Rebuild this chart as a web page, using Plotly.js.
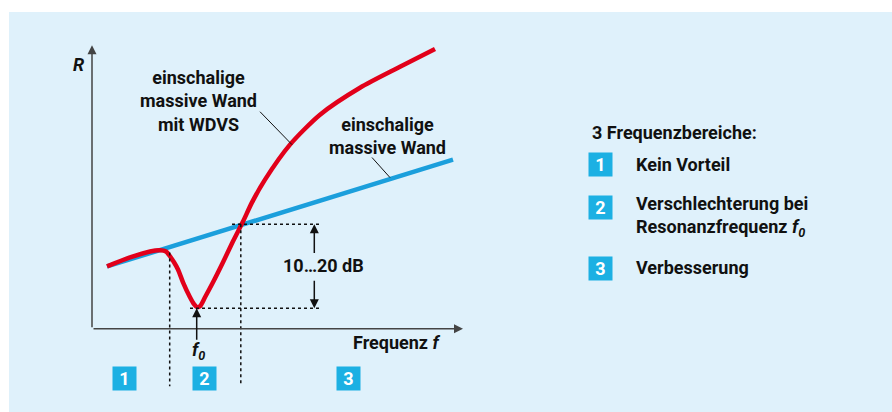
<!DOCTYPE html>
<html><head><meta charset="utf-8">
<script src="https://cdn.plot.ly/plotly-3.0.1.min.js"></script>
<style>html,body{margin:0;padding:0;background:#fff}#chart{width:892px;height:412px}</style>
</head><body><div id="chart"></div>
<script>
// Data (x: frequency, y: sound reduction R, arbitrary units)
const wallX = [0.375, 9.025];
const wallY = [2.08, 5.65];
const wdvsX = [0.375, 0.95, 1.45, 1.7, 1.85, 1.95, 2.05, 2.15, 2.275, 2.45, 2.55, 2.625, 2.7, 2.825, 3.025, 3.275, 3.525, 3.775, 4.0, 4.325, 4.95, 5.7, 6.7, 7.7, 8.575];
const wdvsY = [2.08, 2.38, 2.58, 2.62, 2.58, 2.42, 2.22, 1.98, 1.55, 1.05, 0.82, 0.72, 0.75, 1.05, 1.55, 2.22, 2.92, 3.58, 4.22, 4.98, 6.15, 7.15, 8.05, 8.75, 9.35];
const f0 = 2.6175;          // resonance frequency
const rMin = 0.68;          // R at f0
const fCross = 3.72;        // crossing frequency
const rCross = 3.49;        // R at crossing
const fStart2 = 1.9425;     // start of range 2
const rangeLabels = ["1", "2", "3"];
const rangeLabelX = [0.8125, 2.8125, 6.4125];
const legendTitle = "3 Frequenzbereiche:";
const legendTexts = ["Kein Vorteil", "Verschlechterung bei<br>Resonanzfrequenz <i>f<sub>0</sub></i>", "Verbesserung"];
const labelWall = ["einschalige", "massive Wand"];
const labelWdvs = ["einschalige", "massive Wand", "mit WDVS"];
const dbLabel = "10…20 dB";

const RED = "#e2001a", BLUE = "#1b9fdc", SQ = "#1cb0e3", BG = "#dff1fb";
const FONT = {family: "Roboto, 'Liberation Sans', sans-serif", size: 18, color: "#111", weight: 700};

const traces = [
  {x: wallX, y: wallY, mode: "lines", line: {color: BLUE, width: 4.5}, hoverinfo: "skip"},
  {x: wdvsX, y: wdvsY, mode: "lines", line: {color: RED, width: 4.5, shape: "spline", smoothing: 0.7}, hoverinfo: "skip"}
];

const dot = {color: "#111", width: 1.5, dash: "dot"};
const shapes = [
  {type: "rect", xref: "paper", yref: "paper", x0: 9/892, x1: 1, y0: 0, y1: 400/412, fillcolor: BG, line: {width: 0}, layer: "below"},
  {type: "line", x0: fStart2, x1: fStart2, y0: 2.55, y1: -1.92, line: dot},
  {type: "line", x0: fCross, x1: fCross, y0: rCross, y1: -1.92, line: dot},
  {type: "line", x0: 3.5, x1: 5.7, y0: rCross, y1: rCross, line: dot},
  {type: "line", x0: 2.45, x1: 5.7, y0: rMin, y1: rMin, line: dot},
  {type: "line", x0: 4.2, x1: 5.0, y0: 7.25, y1: 6.15, line: {color: "#111", width: 1}},
  {type: "line", x0: 7.0, x1: 7.45, y0: 5.72, y1: 5.05, line: {color: "#111", width: 1}}
];

function arrow(x, y, ax, ay, col, w) {
  return {x: x, y: y, ax: ax, ay: ay, axref: "x", ayref: "y", xref: "x", yref: "y", text: "",
    showarrow: true, arrowhead: 2, arrowsize: 1.2, arrowwidth: w, arrowcolor: col};
}
function txt(x, y, t, extra) {
  return Object.assign({x: x, y: y, xref: "x", yref: "y", text: t, showarrow: false, font: FONT}, extra || {});
}
const annotations = [
  arrow(0, 9.47, 0, 0, "#444", 1.5),
  arrow(9.275, 0, 0, 0, "#444", 1.5),
  arrow(5.5575, rCross, 5.5575, 2.48, "#111", 1.5),
  arrow(5.5575, rMin, 5.5575, 1.65, "#111", 1.5),
  arrow(f0, rMin, f0, -0.42, "#111", 1.5),
  txt(-0.325, 8.82, "<i>R</i>"),
  txt(5.775, 2.12, dbLabel),
  txt(2.65, -0.75, "<i>f<sub>0</sub></i>"),
  txt(8.75, -0.45, "Frequenz <i>f</i>", {xanchor: "right"}),
  txt(12.45, 6.55, legendTitle, {xanchor: "left"}),
  txt(2.65, 7.617, labelWdvs.join("<br>")),
  txt(7.375, 6.43, labelWall.join("<br>"))
];

rangeLabels.forEach((l, i) => {
  annotations.push(txt(rangeLabelX[i], -1.68, l, {bgcolor: SQ, width: 23, height: 23, borderpad: 0,
    font: Object.assign({}, FONT, {color: "#fff"})}));
});
const legSqY = [5.5, 4.05, 2.0167];
const legTxtY = [5.48, 3.75, 2.05];
rangeLabels.forEach((l, i) => {
  annotations.push(txt(12.7125, legSqY[i], l, {bgcolor: SQ, width: 23, height: 23, borderpad: 0,
    font: Object.assign({}, FONT, {color: "#fff"})}));
  annotations.push(txt(13.55, legTxtY[i], legendTexts[i], {xanchor: "left", align: "left"}));
});

const layout = {
  width: 892, height: 412, margin: {l: 0, r: 0, t: 0, b: 0},
  paper_bgcolor: "#fff", plot_bgcolor: "rgba(0,0,0,0)", showlegend: false,
  xaxis: {range: [-2.3, 20.0], visible: false, fixedrange: true},
  yaxis: {range: [-2.7833, 10.9833], visible: false, fixedrange: true},
  shapes: shapes, annotations: annotations, font: FONT
};
Plotly.newPlot("chart", traces, layout, {staticPlot: true});
</script></body></html>
